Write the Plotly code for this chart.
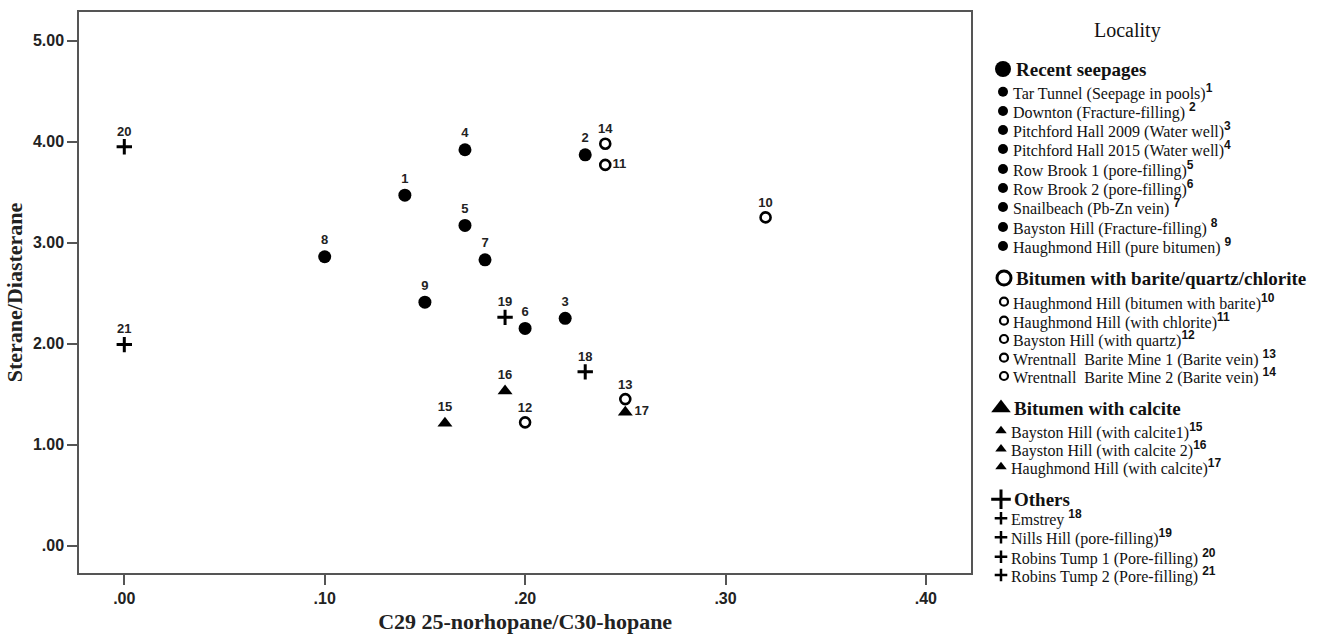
import plotly.graph_objects as go

# ---------------- data ----------------
sample_ids = list(range(1, 22))
x_vals = [0.14, 0.23, 0.22, 0.17, 0.17, 0.20, 0.18, 0.10, 0.15,
          0.32, 0.24, 0.20, 0.25, 0.24,
          0.16, 0.19, 0.25,
          0.23, 0.19, 0.00, 0.00]
y_vals = [3.47, 3.87, 2.25, 3.92, 3.17, 2.15, 2.83, 2.86, 2.41,
          3.25, 3.77, 1.22, 1.45, 3.98,
          1.21, 1.53, 1.32,
          1.72, 2.26, 3.95, 1.99]
groups = ["Recent seepages"] * 9 + ["Bitumen with barite/quartz/chlorite"] * 5 + \
         ["Bitumen with calcite"] * 3 + ["Others"] * 4
names = [
    "Tar Tunnel (Seepage in pools)", "Downton (Fracture-filling) ", "Pitchford Hall 2009 (Water well)",
    "Pitchford Hall 2015 (Water well)", "Row Brook 1 (pore-filling)", "Row Brook 2 (pore-filling)",
    "Snailbeach (Pb-Zn vein) ", "Bayston Hill (Fracture-filling) ", "Haughmond Hill (pure bitumen) ",
    "Haughmond Hill (bitumen with barite)", "Haughmond Hill (with chlorite)", "Bayston Hill (with quartz)",
    "Wrentnall  Barite Mine 1 (Barite vein) ", "Wrentnall  Barite Mine 2 (Barite vein) ",
    "Bayston Hill (with calcite1)", "Bayston Hill (with calcite 2)", "Haughmond Hill (with calcite)",
    "Emstrey ", "Nills Hill (pore-filling)", "Robins Tump 1 (Pore-filling) ", "Robins Tump 2 (Pore-filling) ",
]
right_labels = [11, 17]

x_ticks = [0.0, 0.1, 0.2, 0.3, 0.4]
x_ticktext = [".00", ".10", ".20", ".30", ".40"]
y_ticks = [0, 1, 2, 3, 4, 5]
y_ticktext = [".00", "1.00", "2.00", "3.00", "4.00", "5.00"]

group_order = ["Recent seepages", "Bitumen with barite/quartz/chlorite", "Bitumen with calcite", "Others"]

# ---------------- styles ----------------
W, H = 1323, 637
plot_l, plot_r, plot_t, plot_b = 79.3, 971, 12.3, 572.7
style = {
    "Recent seepages": dict(symbol="circle", size=13, color="black", line=dict(width=0)),
    "Bitumen with barite/quartz/chlorite": dict(symbol="circle-open", size=10, color="black", line=dict(width=2.6, color="black")),
    "Bitumen with calcite": dict(symbol="triangle-up", size=13, color="black", line=dict(width=0)),
    "Others": dict(symbol="cross-thin-open", size=11, color="black", line=dict(width=3, color="black")),
}
leg_item_style = {
    "Recent seepages": dict(symbol="circle", size=10, color="black", line=dict(width=0)),
    "Bitumen with barite/quartz/chlorite": dict(symbol="circle-open", size=8, color="black", line=dict(width=2.2, color="black")),
    "Bitumen with calcite": dict(symbol="triangle-up", size=10, color="black", line=dict(width=0)),
    "Others": dict(symbol="cross-thin-open", size=9, color="black", line=dict(width=2.5, color="black")),
}
leg_head_style = {
    "Recent seepages": dict(symbol="circle", size=16, color="black", line=dict(width=0)),
    "Bitumen with barite/quartz/chlorite": dict(symbol="circle-open", size=14, color="black", line=dict(width=3, color="black")),
    "Bitumen with calcite": dict(symbol="triangle-up", size=17, color="black", line=dict(width=0)),
    "Others": dict(symbol="cross-thin-open", size=14, color="black", line=dict(width=3, color="black")),
}

fig = go.Figure()

for g in group_order:
    idx = [i for i in range(len(sample_ids)) if groups[i] == g]
    fig.add_trace(go.Scatter(
        x=[x_vals[i] for i in idx], y=[y_vals[i] for i in idx],
        mode="markers+text",
        marker=style[g],
        text=[str(sample_ids[i]) for i in idx],
        textposition=["middle right" if sample_ids[i] in right_labels else "top center" for i in idx],
        textfont=dict(family="Liberation Sans", size=13, color="#222", weight="bold"),
        showlegend=False, cliponaxis=False, xaxis="x", yaxis="y",
    ))

# ---------------- custom legend (layout) ----------------
header_y = [69, 278, 408, 499.3]
item_y = {
    "Recent seepages": [91.7, 111, 130, 149, 169, 188, 207, 227, 246],
    "Bitumen with barite/quartz/chlorite": [301.7, 320.7, 339, 357.7, 376],
    "Bitumen with calcite": [430.7, 449, 466.7],
    "Others": [518.3, 537.3, 556.7, 575],
}
leg_marker_x = {"Recent seepages": 1003, "Bitumen with barite/quartz/chlorite": 1004,
                "Bitumen with calcite": 1001, "Others": 1001}
leg_text_x = {"Recent seepages": 1011, "Bitumen with barite/quartz/chlorite": 1011,
              "Bitumen with calcite": 1009, "Others": 1009}
sup_fmt = "<sup><span style='font-family:Liberation Sans;font-size:12px;font-weight:bold'>%d</span></sup>"

annotations = []
annotations.append(dict(x=1127, y=30, xref="x2", yref="y2", text="Locality", showarrow=False,
                        xanchor="center", yanchor="middle",
                        font=dict(family="Liberation Serif", size=20, color="#111")))
for gi, g in enumerate(group_order):
    fig.add_trace(go.Scatter(x=[leg_marker_x[g]], y=[header_y[gi]],
                             mode="markers", marker=leg_head_style[g], showlegend=False,
                             xaxis="x2", yaxis="y2", hoverinfo="skip"))
    annotations.append(dict(x=leg_text_x[g] + 3, y=header_y[gi], xref="x2", yref="y2", text="<b>" + g + "</b>",
                            showarrow=False, xanchor="left", yanchor="middle",
                            font=dict(family="Liberation Serif", size=19, color="#111")))
    idx = [i for i in range(len(sample_ids)) if groups[i] == g]
    fig.add_trace(go.Scatter(x=[leg_marker_x[g]] * len(idx), y=item_y[g],
                             mode="markers", marker=leg_item_style[g], showlegend=False,
                             xaxis="x2", yaxis="y2", hoverinfo="skip"))
    for k, i in enumerate(idx):
        annotations.append(dict(x=leg_text_x[g], y=item_y[g][k], xref="x2", yref="y2",
                                text=names[i] + sup_fmt % sample_ids[i],
                                showarrow=False, xanchor="left", yanchor="middle",
                                font=dict(family="Liberation Serif", size=16, color="#111")))

axis_col = "#555"
fig.update_layout(
    width=W, height=H, autosize=False,
    margin=dict(l=0, r=0, t=0, b=0),
    paper_bgcolor="white", plot_bgcolor="white",
    xaxis=dict(domain=[plot_l / W, plot_r / W], range=[(plot_l - 124.3) / 2004, (plot_r - 124.3) / 2004],
               tickvals=x_ticks, ticktext=x_ticktext, ticks="outside", ticklen=10, tickwidth=2,
               tickcolor=axis_col, showline=True, linecolor=axis_col, linewidth=2, mirror=True,
               showgrid=False, zeroline=False, automargin=False,
               tickfont=dict(family="Liberation Sans", size=16, color="#222", weight="bold"),
               title=dict(text="C29 25-norhopane/C30-hopane", standoff=8,
                          font=dict(family="Liberation Serif", size=22, color="#222", weight="bold")),
               anchor="y"),
    yaxis=dict(domain=[(H - plot_b) / H, (H - plot_t) / H],
               range=[-(plot_b - 545.5) / 100.96, 5 + (40.7 - plot_t) / 100.96],
               tickvals=y_ticks, ticktext=y_ticktext, ticks="outside", ticklen=10, tickwidth=2,
               tickcolor=axis_col, showline=True, linecolor=axis_col, linewidth=2, mirror=True,
               showgrid=False, zeroline=False, automargin=False,
               tickfont=dict(family="Liberation Sans", size=16, color="#222", weight="bold"),
               title=dict(text="Sterane/Diasterane", standoff=4,
                          font=dict(family="Liberation Serif", size=22, color="#222", weight="bold")),
               anchor="x"),
    xaxis2=dict(domain=[979 / W, 1.0], range=[979, W], visible=False, anchor="y2", fixedrange=True),
    yaxis2=dict(domain=[0, 1], range=[H, 0], visible=False, anchor="x2", fixedrange=True),
    annotations=annotations,
    showlegend=False,
)

fig.write_html("out.html")
